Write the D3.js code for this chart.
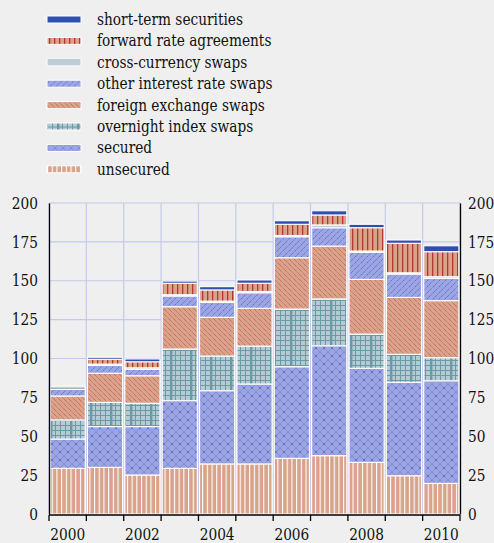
<!DOCTYPE html>
<html>
<head>
<meta charset="utf-8">
<script src="https://cdn.jsdelivr.net/npm/d3@7"></script>
<style>
  body { margin: 0; background: #efefef; }
  svg { display: block; }
  text { font-family: "DejaVu Serif", serif; }
</style>
</head>
<body>
<svg id="chart"></svg>
<script>
// values (billions, stacked bottom -> top)
var years = [2000, 2001, 2002, 2003, 2004, 2005, 2006, 2007, 2008, 2009, 2010];
var unsecured     = [29.4, 30.0, 25.1, 29.4, 32.2, 32.2, 35.8, 37.5, 33.2, 24.6, 19.7];
var secured       = [18.8, 26.2, 31.1, 43.5, 47.1, 51.4, 58.9, 70.7, 60.5, 60.1, 66.0];
var overnightIdx  = [12.3, 15.6, 15.0, 33.2, 22.3, 24.4, 37.1, 30.1, 22.0, 18.0, 14.8];
var fxSwaps       = [15.4, 18.7, 17.7, 27.2, 24.9, 24.3, 33.0, 34.0, 35.2, 36.6, 36.7];
var otherIrs      = [4.3, 5.1, 4.1, 6.9, 9.6, 10.0, 13.5, 11.8, 17.4, 15.0, 14.4];
var crossCurrency = [2.0, 0.8, 1.0, 0.8, 0.8, 0.8, 0.8, 1.8, 0.8, 0.8, 1.0];
var fra           = [0, 3.1, 3.9, 7.4, 7.2, 5.3, 7.2, 6.4, 15.0, 19.0, 16.1];
var shortTerm     = [0, 1.3, 1.8, 1.4, 2.1, 2.1, 2.3, 2.7, 2.2, 2.1, 3.8];

var keys = ["unsecured", "secured", "ois", "fx", "irs", "ccs", "fra", "sts"];
var labels = {
    sts: "short-term securities",
    fra: "forward rate agreements",
    ccs: "cross-currency swaps",
    irs: "other interest rate swaps",
    fx: "foreign exchange swaps",
    ois: "overnight index swaps",
    secured: "secured",
    unsecured: "unsecured"
};
var yTicks = [0, 25, 50, 75, 100, 125, 150, 175, 200];
var xLabelYears = [2000, 2002, 2004, 2006, 2008, 2010];

var table = years.map(function(yr, i) {
    return {
        year: yr,
        unsecured: unsecured[i], secured: secured[i], ois: overnightIdx[i],
        fx: fxSwaps[i], irs: otherIrs[i], ccs: crossCurrency[i],
        fra: fra[i], sts: shortTerm[i]
    };
});

var width = 494, height = 543;
var plotLeft = 49, plotRight = 460, plotTop = 203, plotBottom = 514;
var fontSize = 16;

var svg = d3.select("#chart").attr("width", width).attr("height", height);
svg.append("rect").attr("width", width).attr("height", height).attr("fill", "#efefef");

// no Times here: measure the serif we get and squeeze it to Times-like widths
var probe = svg.append("text").attr("font-size", fontSize).text("short-term securities");
var squeeze = Math.min(1, 146 / probe.node().getComputedTextLength());
probe.remove();
function condense(sel) {
    sel.each(function() {
        var w = this.getComputedTextLength();
        d3.select(this).attr("textLength", w * squeeze).attr("lengthAdjust", "spacingAndGlyphs");
    });
}

// PATTERNS
var defs = svg.append("defs");
var salmon = "#d9a28b", periwinkle = "#9da4e2";

var p = defs.append("pattern").attr("id", "p-unsecured").attr("patternUnits", "userSpaceOnUse")
    .attr("width", 4.7).attr("height", 10);
p.append("rect").attr("width", 4.7).attr("height", 10).attr("fill", salmon);
p.append("rect").attr("x", 0).attr("width", 1.1).attr("height", 10).attr("fill", "#ffffff");

p = defs.append("pattern").attr("id", "p-secured").attr("patternUnits", "userSpaceOnUse")
    .attr("width", 8).attr("height", 8);
p.append("rect").attr("width", 8).attr("height", 8).attr("fill", periwinkle);
p.append("path").attr("d", "M0,0L8,8M8,0L0,8").attr("stroke", "#6277cc").attr("stroke-width", 0.8)
    .attr("stroke-dasharray", "1,0.6");
p.append("circle").attr("cx", 4).attr("cy", 4).attr("r", 0.8).attr("fill", "#3050bb");

p = defs.append("pattern").attr("id", "p-ois").attr("patternUnits", "userSpaceOnUse")
    .attr("width", 20).attr("height", 20);
p.append("rect").attr("width", 20).attr("height", 20).attr("fill", "#b6cad2");
[0, 5, 10, 15].forEach(function(v) {
    p.append("rect").attr("x", v).attr("width", v == 10 ? 2.4 : 1).attr("height", 20).attr("fill", "#6a9aa8");
    p.append("rect").attr("y", v).attr("height", 1).attr("width", 20).attr("fill", "#6a9aa8");
});

p = defs.append("pattern").attr("id", "p-fx").attr("patternUnits", "userSpaceOnUse")
    .attr("width", 5).attr("height", 5);
p.append("rect").attr("width", 5).attr("height", 5).attr("fill", salmon);
p.append("path").attr("d", "M-1,-1L6,6").attr("stroke", "#bf4a40").attr("stroke-width", 0.85)
    .attr("stroke-dasharray", "1,0.8");

p = defs.append("pattern").attr("id", "p-irs").attr("patternUnits", "userSpaceOnUse")
    .attr("width", 6).attr("height", 6);
p.append("rect").attr("width", 6).attr("height", 6).attr("fill", periwinkle);
p.append("path").attr("d", "M-1,7L7,-1").attr("stroke", "#3e5ec4").attr("stroke-width", 0.8)
    .attr("stroke-dasharray", "1.6,0.9");

p = defs.append("pattern").attr("id", "p-ccs").attr("patternUnits", "userSpaceOnUse")
    .attr("width", 6).attr("height", 7);
p.append("rect").attr("width", 6).attr("height", 7).attr("fill", "#c0ced6");
p.append("rect").attr("y", 3).attr("width", 6).attr("height", 1.2).attr("fill", "#7f9eab");

p = defs.append("pattern").attr("id", "p-fra").attr("patternUnits", "userSpaceOnUse")
    .attr("width", 5).attr("height", 10);
p.append("rect").attr("width", 5).attr("height", 10).attr("fill", salmon);
p.append("rect").attr("x", 2).attr("width", 1.3).attr("height", 10).attr("fill", "#b2392c");

var fills = {
    unsecured: "url(#p-unsecured)", secured: "url(#p-secured)", ois: "url(#p-ois)",
    fx: "url(#p-fx)", irs: "url(#p-irs)", ccs: "url(#p-ccs)", fra: "url(#p-fra)",
    sts: "#2d4fae"
};

// SCALES
var x = d3.scaleBand().domain(years).range([plotLeft, plotRight]).paddingInner(0.06).paddingOuter(0.03);
var y = d3.scaleLinear().domain([0, 200]).range([plotBottom, plotTop]);
var gap = x.step() * x.paddingInner();
var edges = years.map(function(yr) { return x(yr) - gap / 2; });
edges.push(x(years[years.length - 1]) + x.bandwidth() + gap / 2);

// GRID
var grid = svg.append("g").attr("stroke", "#c6c9ec").attr("stroke-width", 1.2);
grid.selectAll(".hg").data(yTicks).enter().append("line")
    .attr("x1", plotLeft).attr("x2", plotRight)
    .attr("y1", function(d) { return y(d); }).attr("y2", function(d) { return y(d); });
grid.selectAll(".vg").data(edges).enter().append("line")
    .attr("x1", function(d) { return d; }).attr("x2", function(d) { return d; })
    .attr("y1", plotTop).attr("y2", plotBottom);

// BARS
var series = d3.stack().keys(keys)(table);
svg.append("g").selectAll("g").data(series).enter().append("g")
    .attr("fill", function(s) { return fills[s.key]; })
    .selectAll("rect")
    .data(function(s) { return s.filter(function(d) { return d[1] - d[0] > 0; }); })
    .enter().append("rect")
    .attr("x", function(d) { return x(d.data.year); })
    .attr("width", x.bandwidth())
    .attr("y", function(d) { return y(d[1]); })
    .attr("height", function(d) { return y(d[0]) - y(d[1]); })
    .attr("stroke", "#ffffff").attr("stroke-width", 1.1);

// AXES
var yLeft = d3.axisLeft(y).tickValues(yTicks).tickSize(0).tickPadding(11);
var yRight = d3.axisRight(y).tickValues(yTicks).tickSize(0).tickPadding(8);
var gl = svg.append("g").attr("transform", "translate(" + plotLeft + ",0)").call(yLeft);
var gr = svg.append("g").attr("transform", "translate(" + plotRight + ",0)").call(yRight);
[gl, gr].forEach(function(g) {
    g.attr("font-family", null).attr("font-size", fontSize);
    g.select(".domain").attr("stroke", "#000").attr("stroke-width", 1.3);
    g.selectAll("text").attr("fill", "#111").call(condense);
});

var xAxis = svg.append("g");
xAxis.append("line").attr("x1", plotLeft).attr("x2", plotRight)
    .attr("y1", plotBottom + 1).attr("y2", plotBottom + 1)
    .attr("stroke", "#000").attr("stroke-width", 1.3);
xAxis.selectAll(".tick").data(edges).enter().append("line")
    .attr("x1", function(d) { return d; }).attr("x2", function(d) { return d; })
    .attr("y1", plotBottom + 1).attr("y2", plotBottom + 7)
    .attr("stroke", "#000").attr("stroke-width", 1.3);
xAxis.selectAll("text").data(xLabelYears).enter().append("text")
    .attr("x", function(d) { return x(d) + x.bandwidth() / 2; })
    .attr("y", 540)
    .attr("text-anchor", "middle").attr("font-size", fontSize).attr("fill", "#111")
    .text(function(d) { return d; })
    .call(condense);

// LEGEND
var legendKeys = keys.slice().reverse();
var lg = svg.append("g").selectAll("g").data(legendKeys).enter().append("g")
    .attr("transform", function(d, i) { return "translate(47," + (19.5 + i * 21.4) + ")"; });
lg.append("rect").attr("x", 0).attr("y", -3.5).attr("width", 34).attr("height", 7)
    .attr("fill", function(d) { return fills[d]; })
    .attr("stroke", "#ffffff").attr("stroke-width", 1);
lg.append("text").attr("x", 50).attr("y", 5.5).attr("font-size", fontSize).attr("fill", "#111")
    .text(function(d) { return labels[d]; })
    .call(condense);
</script>
</body>
</html>
